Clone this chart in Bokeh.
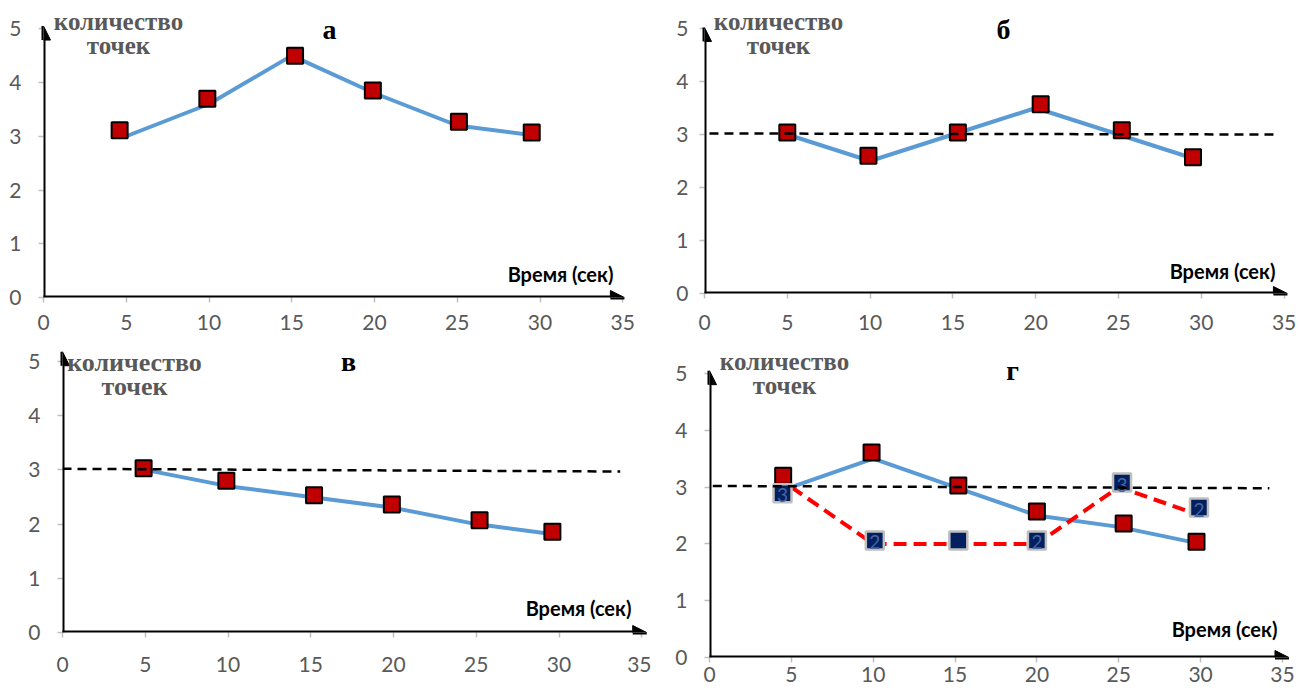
from bokeh.plotting import figure
from bokeh.models import Range1d, Arrow, NormalHead, SingleIntervalTicker, Label
from bokeh.layouts import row, column
from bokeh.core.properties import value
from bokeh.embed import file_html
from bokeh.resources import INLINE

# ---------------- data ----------------
time = [5, 10, 15, 20, 25, 30]
x_ticks_interval = 5
y_ticks_interval = 1

# panel а
a_line = [3.0, 3.6, 4.5, 3.8, 3.2, 3.0]
a_mark_x = [4.6, 9.9, 15.2, 19.9, 25.1, 29.5]
a_mark_y = [3.11, 3.70, 4.50, 3.85, 3.27, 3.07]

# panel б
b_line = [3.0, 2.5, 3.0, 3.5, 3.0, 2.5]
b_mark_x = [5.0, 9.9, 15.3, 20.3, 25.2, 29.5]
b_mark_y = [3.04, 2.60, 3.04, 3.57, 3.08, 2.57]
b_mean_x = [0.3, 34.4]
b_mean_y = [3.02, 3.0]

# panel в
c_line = [3.0, 2.7, 2.5, 2.3, 2.0, 1.8]
c_mark_x = [4.9, 9.9, 15.2, 19.9, 25.2, 29.6]
c_mark_y = [3.03, 2.80, 2.53, 2.36, 2.07, 1.86]
c_mean_x = [0.0, 33.7]
c_mean_y = [3.02, 2.97]

# panel г
d_line = [3.0, 3.5, 3.0, 2.5, 2.3, 2.0]
d_mark_x = [4.5, 9.9, 15.2, 20.0, 25.3, 29.75]
d_mark_y = [3.20, 3.61, 3.03, 2.57, 2.36, 2.04]
d_count = [3.0, 2.0, 2.0, 2.0, 3.0, 2.5]
d_count_x = [4.46, 10.1, 15.2, 20.0, 25.2, 29.9]
d_count_y = [2.89, 2.06, 2.06, 2.06, 3.08, 2.64]
d_count_labels = ["3", "2", "", "2", "3", "2"]
d_mean_x = [0.2, 34.2]
d_mean_y = [3.02, 2.98]

y_label_lines = ["количество", "точек"]
x_label = "Время (сек)"
titles = ["а", "б", "в", "г"]

GREY_TXT = "#595959"
BLUE = "#5B9BD5"
DARKRED = "#C00000"
NAVY = "#002060"


def build(s):
    p = figure(width=s["W"], height=s["H"], output_backend="svg", toolbar_location=None,
               x_range=Range1d(0, (s["R"] - s["L"]) / s["sx"]),
               y_range=Range1d(0, (s["B"] - s["T"]) / s["sy"]),
               min_border_left=s["L"] - s["ox"], min_border_right=s["ox"] + s["W"] - s["R"],
               min_border_top=s["T"] - s["oy"], min_border_bottom=s["oy"] + s["H"] - s["B"])
    p.outline_line_color = None
    p.grid.visible = False
    p.background_fill_color = "white"
    p.border_fill_color = "white"
    p.xaxis.ticker = SingleIntervalTicker(interval=x_ticks_interval)
    p.yaxis.ticker = SingleIntervalTicker(interval=y_ticks_interval)
    for ax in (p.xaxis[0], p.yaxis[0]):
        ax.axis_line_color = None
        ax.major_tick_line_color = "#BFBFBF"
        ax.major_tick_line_width = 1.5
        ax.major_tick_in = 0
        ax.major_tick_out = 5
        ax.minor_tick_line_color = None
        ax.major_label_text_font = "Lato"
        ax.major_label_text_font_size = "21px"
        ax.major_label_text_color = GREY_TXT
    p.xaxis[0].major_label_standoff = s["xs"]
    p.yaxis[0].major_label_standoff = s["ys"]

    def dx(px):
        return (px - s["L"]) / s["sx"]

    def dy(py):
        return (s["B"] - py) / s["sy"]

    # axis arrows
    p.add_layout(Arrow(end=NormalHead(size=14, fill_color="black", line_color="black", line_width=1),
                       x_start=-2.0 / s["sx"], y_start=0, x_end=s["xtip"], y_end=0,
                       line_width=4, line_color="black"))
    p.add_layout(Arrow(end=NormalHead(size=14, fill_color="black", line_color="black", line_width=1),
                       x_start=0, y_start=0, x_end=0, y_end=s["ytip"],
                       line_width=4, line_color="black"))

    # texts
    for txt, ypx in zip(y_label_lines, s["yl"][1:]):
        p.add_layout(Label(x=dx(s["yl"][0]), y=dy(ypx), text=txt,
                           text_font="Liberation Serif", text_font_style="bold",
                           text_font_size=s.get("ylf", "25px"),
                           text_color=GREY_TXT, text_align="center", text_baseline="middle"))
    p.add_layout(Label(x=dx(s["xl"][0]), y=dy(s["xl"][1]), text=x_label,
                       text_font="Lato", text_font_style="bold", text_font_size="20px",
                       text_color="black", text_align="center", text_baseline="middle"))
    p.add_layout(Label(x=dx(s["tt"][0]), y=dy(s["tt"][1]), text=s["title"],
                       text_font="Liberation Serif", text_font_style="bold", text_font_size="28px",
                       text_color="black", text_align="center", text_baseline="alphabetic"))
    return p


spec_a = dict(ox=0, oy=0, W=651, H=344, L=43, R=645, T=1, B=297, sx=16.55, sy=53.75,
              xs=12, ys=17, xtip=35.1, ytip=5.05,
              yl=(118, 21, 45), xl=(560, 273), tt=(329, 29), title=titles[0])
spec_b = dict(ox=651, oy=0, W=648, H=344, L=704, R=1296, T=1, B=293, sx=16.56, sy=53.0,
              xs=16, ys=11, xtip=35.2, ytip=5.02,
              yl=(778, 21, 45), xl=(1222, 270), tt=(1003, 29), title=titles[1])
spec_c = dict(ox=0, oy=344, W=651, H=352, L=62, R=648, T=345, B=632, sx=16.55, sy=54.2,
              xs=19, ys=17, xtip=35.3, ytip=5.18, ylf="26px",
              yl=(134, 362, 386), xl=(578, 607), tt=(348, 361), title=titles[2])
spec_d = dict(ox=651, oy=344, W=648, H=352, L=709, R=1296, T=345, B=657, sx=16.37, sy=56.8,
              xs=4, ys=17, xtip=35.4, ytip=5.05,
              yl=(784, 361, 385), xl=(1224, 628), tt=(1012, 370), title=titles[3])

pa = build(spec_a)
pa.line(time, a_line, line_color=BLUE, line_width=4)
pa.scatter(a_mark_x, a_mark_y, marker="square", size=16, fill_color=DARKRED, line_color="black", line_width=2)

pb = build(spec_b)
pb.line(time, b_line, line_color=BLUE, line_width=4)
pb.scatter(b_mark_x, b_mark_y, marker="square", size=16, fill_color=DARKRED, line_color="black", line_width=2)
pb.line(b_mean_x, b_mean_y, line_color="black", line_width=2.5, line_dash="9 6")

pc = build(spec_c)
pc.line(time, c_line, line_color=BLUE, line_width=4)
pc.scatter(c_mark_x, c_mark_y, marker="square", size=16, fill_color=DARKRED, line_color="black", line_width=2)
pc.line(c_mean_x, c_mean_y, line_color="black", line_width=2.5, line_dash="9 6")

pd = build(spec_d)
pd.line(time, d_line, line_color=BLUE, line_width=4)
pd.scatter(d_mark_x, d_mark_y, marker="square", size=16, fill_color=DARKRED, line_color="black", line_width=2)
pd.line(time, d_count, line_color="#FF0000", line_width=4, line_dash="13 7")
pd.scatter(d_count_x, d_count_y, marker="square", size=18, fill_color=NAVY, line_color="#BFBFBF", line_width=2.5)
pd.text(x=d_count_x, y=d_count_y, text=d_count_labels, text_font=value("Lato"), text_font_size="19px",
        text_color="#4A66A0", text_align="center", text_baseline="middle", y_offset=2)
pd.line(d_mean_x, d_mean_y, line_color="black", line_width=2.5, line_dash="9 6")

layout = column(row(column(pa), column(pb)), row(column(pc), column(pd)))
open("out.html", "w").write(file_html(layout, INLINE))
